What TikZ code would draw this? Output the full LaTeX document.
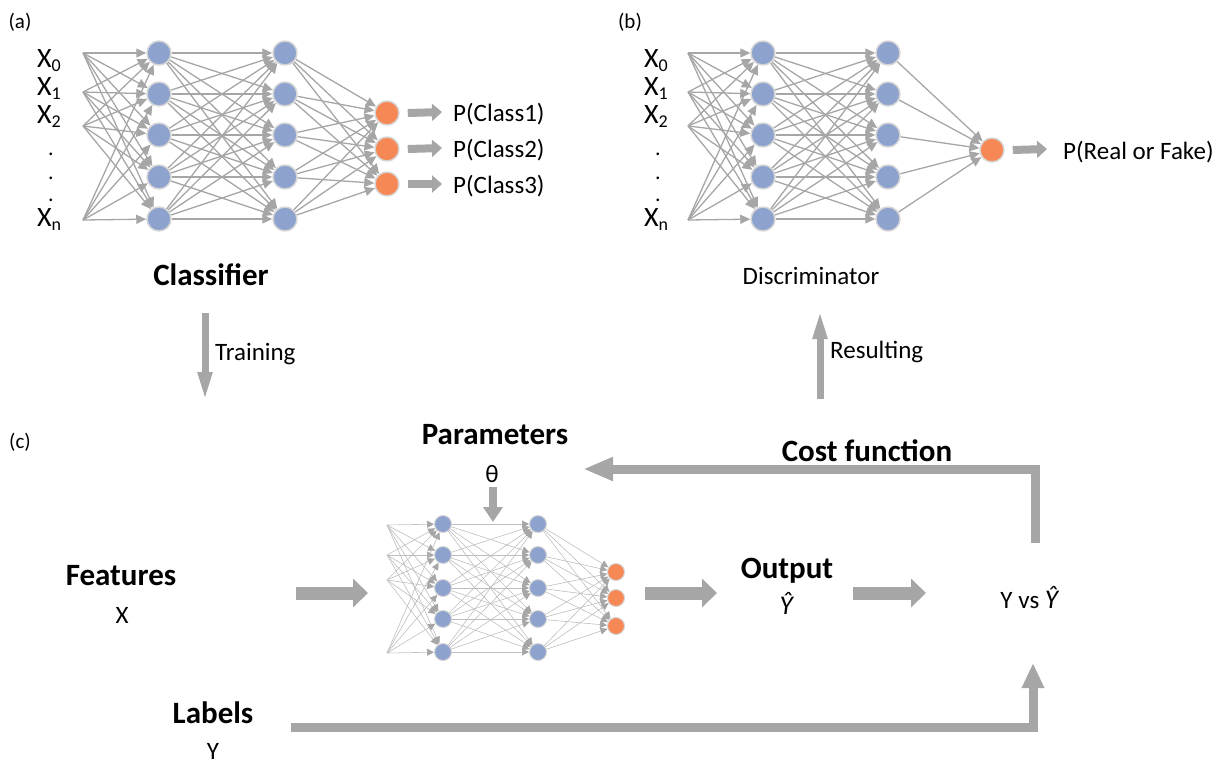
\documentclass[tikz,border=0pt]{standalone}
\usepackage{fontspec}
\setmainfont{Carlito}
\usetikzlibrary{arrows.meta}
\definecolor{nblue}{RGB}{142,162,206}
\definecolor{norange}{RGB}{246,136,86}
\definecolor{nring}{RGB}{214,214,214}
\definecolor{egrey}{RGB}{166,166,166}
\definecolor{lgrey}{RGB}{190,190,190}
\tikzset{
  hid/.style={circle,fill=nblue,draw=nring,line width=1.5pt,inner sep=0pt,minimum size=24pt},
  outn/.style={circle,fill=norange,draw=nring,line width=1.5pt,inner sep=0pt,minimum size=24pt},
  hidc/.style={circle,fill=nblue,draw=nring,line width=1pt,inner sep=0pt,minimum size=17pt},
  outc/.style={circle,fill=norange,draw=nring,line width=1pt,inner sep=0pt,minimum size=17pt},
  edge/.style={draw=egrey,line width=1.3pt,-{Triangle[length=10pt 0,width=9pt 0]}},
  edgec/.style={draw=lgrey,line width=0.6pt,-{Triangle[length=7pt 0,width=7pt 0,color=egrey]}},
  reg/.style={font=\fontsize{25}{30}\selectfont,inner sep=0pt},
  bld/.style={font=\fontsize{31}{36}\selectfont\bfseries,inner sep=0pt},
  tag/.style={font=\fontsize{21}{25}\selectfont,inner sep=0pt},
  xlab/.style={font=\fontsize{28}{30}\selectfont,inner sep=0pt,anchor=base west},
  dotlab/.style={font=\fontsize{22}{22}\selectfont,inner sep=0pt,anchor=base west},
  bigarrow/.style={draw=egrey,line width=13pt,-{Triangle[length=15pt 0,width=28pt 0]}},
  smallarrow/.style={draw=egrey,line width=8pt,-{Triangle[length=10pt 0,width=17pt 0]}},
  loopline/.style={draw=egrey,line width=9pt},
  thinarrow/.style={draw=egrey,line width=7pt,-{Triangle[length=30pt 0,width=13pt 0]}},
}
\newcommand{\xsub}[1]{X\raisebox{-0.35ex}{\fontsize{18}{18}\selectfont #1}}
\newcommand{\yhat}{\textit{\^{Y}}}
\begin{document}
\begin{tikzpicture}[x=1pt,y=-1pt]
\useasboundingbox (0,0) rectangle (1230,764);

% ---------------- (a) Classifier ----------------
\node[tag] (taga) at (20,22) {(a)};
\node[xlab] (ax0) at (37,67) {\xsub{0}};
\node[xlab] (ax1) at (37,95) {\xsub{1}};
\node[xlab] (ax2) at (37,123) {\xsub{2}};
\node[xlab] (axn) at (37,226) {\xsub{n}};
\node[dotlab] (ad1) at (48,155) {.};
\node[dotlab] (ad2) at (48,179) {.};
\node[dotlab] (ad3) at (48,201) {.};
\foreach \i/\y in {1/53,2/92,3/126,4/220} \coordinate (ai-\i) at (83,\y);
\foreach \i/\y in {1/53,2/94,3/135,4/177,5/219} {
  \node[hid] (a1-\i) at (159,\y) {};
  \node[hid] (a2-\i) at (285,\y) {};
}
\foreach \i/\y in {1/113,2/149,3/184} \node[outn] (ao-\i) at (387,\y) {};
\foreach \s in {1,...,4} \foreach \t in {1,...,5} \draw[edge] (ai-\s) -- (a1-\t);
\foreach \s in {1,...,5} \foreach \t in {1,...,5} \draw[edge] (a1-\s) -- (a2-\t);
\foreach \s in {1,...,5} \foreach \t in {1,...,3} \draw[edge] (a2-\s) -- (ao-\t);
\foreach \i/\y in {1/112,2/148,3/184} {
  \coordinate (pa-\i) at (442,\y);
  \draw[smallarrow] (ao-\i.east) ++(8,0) -- (pa-\i);
}
\node[reg,anchor=base west] (pc1) at (453,121) {P(Class1)};
\node[reg,anchor=base west] (pc2) at (453,157) {P(Class2)};
\node[reg,anchor=base west] (pc3) at (453,193) {P(Class3)};
\node[bld,anchor=base] (classifier) at (211,285) {Classifier};

% ---------------- (b) Discriminator ----------------
\node[tag] (tagb) at (630,22) {(b)};
\node[xlab] (bx0) at (644,67) {\xsub{0}};
\node[xlab] (bx1) at (644,95) {\xsub{1}};
\node[xlab] (bx2) at (644,123) {\xsub{2}};
\node[xlab] (bxn) at (644,226) {\xsub{n}};
\node[dotlab] (bd1) at (655,155) {.};
\node[dotlab] (bd2) at (655,179) {.};
\node[dotlab] (bd3) at (655,201) {.};
\foreach \i/\y in {1/53,2/92,3/126,4/220} \coordinate (bi-\i) at (688,\y);
\foreach \i/\y in {1/53,2/94,3/135,4/177,5/219} {
  \node[hid] (b1-\i) at (763,\y) {};
  \node[hid] (b2-\i) at (888,\y) {};
}
\node[outn] (bo) at (992,150) {};
\foreach \s in {1,...,4} \foreach \t in {1,...,5} \draw[edge] (bi-\s) -- (b1-\t);
\foreach \s in {1,...,5} \foreach \t in {1,...,5} \draw[edge] (b1-\s) -- (b2-\t);
\foreach \s in {1,...,5} \draw[edge] (b2-\s) -- (bo);
\coordinate (pb) at (1047,149);
\draw[smallarrow] (bo.east) ++(8,0) -- (pb);
\node[reg,anchor=base west] (prf) at (1063,159) {P(Real or Fake)};
\node[reg,anchor=base] (discr) at (811,284) {Discriminator};

% ---------------- Training / Resulting ----------------
\coordinate (trA) at (205,313);
\coordinate (trB) at (205,402);
\draw[thinarrow] (trA) -- (trB);
\node[reg,anchor=base west] (training) at (215,360) {Training};
\coordinate (reA) at (820,399);
\coordinate (reB) at (820,309);
\draw[thinarrow] (reA) -- (reB);
\node[reg,anchor=base west] (resulting) at (830,358) {Resulting};

% ---------------- (c) Training loop ----------------
\node[tag] (tagc) at (20,442) {(c)};
\foreach \i/\y in {1/525,2/555,3/580,4/653} \coordinate (ci-\i) at (387,\y);
\foreach \i/\y in {1/524,2/555,3/588,4/619,5/652} {
  \node[hidc] (c1-\i) at (443,\y) {};
  \node[hidc] (c2-\i) at (538,\y) {};
}
\foreach \i/\y in {1/572,2/598,3/626} \node[outc] (co-\i) at (616,\y) {};
\foreach \s in {1,...,4} \foreach \t in {1,...,5} \draw[edgec] (ci-\s) -- (c1-\t);
\foreach \s in {1,...,5} \foreach \t in {1,...,5} \draw[edgec] (c1-\s) -- (c2-\t);
\foreach \s in {1,...,5} \foreach \t in {1,...,3} \draw[edgec] (c2-\s) -- (co-\t);

\node[bld,anchor=base] (features) at (121,585) {Features};
\node[reg,anchor=base] (xx) at (122,623) {X};
\node[bld,anchor=base] (labels) at (213,723) {Labels};
\node[reg,anchor=base] (yy) at (213,759) {Y};
\node[bld,anchor=base] (params) at (495,444) {Parameters};
\node[reg,anchor=base] (theta) at (492,482) {θ};
\node[bld,anchor=base] (cost) at (867,461) {Cost function};
\node[bld,anchor=base] (output) at (787,578) {Output};
\node[reg,anchor=base,font=\fontsize{27}{30}\selectfont] (yhat) at (787,614) {\yhat};
\node[reg,anchor=base] (yvs) at (1030,608) {Y vs {\fontsize{27}{30}\selectfont\yhat}};

\coordinate (fA) at (296,593);
\coordinate (fB) at (368,593);
\draw[bigarrow] (fA) -- (fB);
\coordinate (oA) at (645,593);
\coordinate (oB) at (717,593);
\draw[bigarrow] (oA) -- (oB);
\coordinate (yA) at (853,593);
\coordinate (yB) at (926,593);
\draw[bigarrow] (yA) -- (yB);

\coordinate (thA) at (493,487);
\coordinate (thB) at (493,522);
\draw[draw=egrey,line width=8pt,-{Triangle[length=15pt 0,width=19pt 0]}] (thA) -- (thB);

\coordinate (cfA) at (1035,543);
\coordinate (cfB) at (583,469);
\draw[loopline,-{Triangle[length=30pt 0,width=22pt 0]}] (cfA) |- (cfB);

\coordinate (lbA) at (291,727);
\coordinate (lbB) at (1033,663);
\draw[loopline,-{Triangle[length=25pt 0,width=21pt 0]}] (lbA) -| (lbB);
\end{tikzpicture}
\end{document}
